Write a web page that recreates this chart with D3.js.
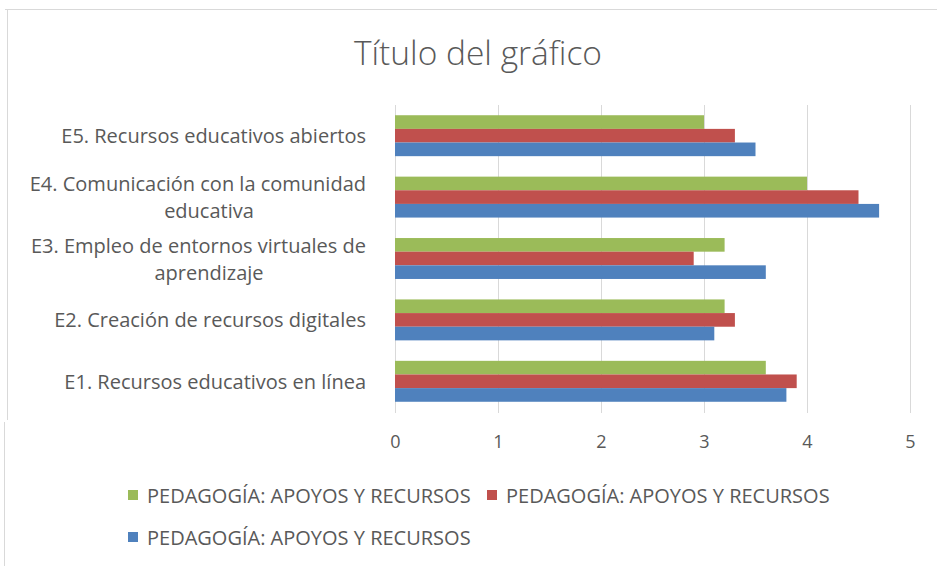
<!DOCTYPE html>
<html>
<head>
<meta charset="utf-8">
<script src="https://cdn.jsdelivr.net/npm/d3@7"></script>
<style>
  body{margin:0;background:#fff;}
  text{font-family:"Open Sans", sans-serif;fill:#595959;}
</style>
</head>
<body>
<svg id="main"></svg>
<script>
//--------data----------
// categories from top to bottom, each label split in display lines
let categories = ['E5', 'E4', 'E3', 'E2', 'E1'];
let categoryLines = [
  ['E5. Recursos educativos abiertos'],
  ['E4. Comunicación con la comunidad', 'educativa'],
  ['E3. Empleo de entornos virtuales de', 'aprendizaje'],
  ['E2. Creación de recursos digitales'],
  ['E1. Recursos educativos en línea']
];
let seriesNames = [
  'PEDAGOGÍA: APOYOS Y RECURSOS',
  'PEDAGOGÍA: APOYOS Y RECURSOS',
  'PEDAGOGÍA: APOYOS Y RECURSOS'
];
let seriesColors = ['#9BBB59', '#C0504D', '#4F81BD'];
// values per category (same order as categories), one array per series
let greenValues = [3.0, 4.0, 3.2, 3.2, 3.6];
let redValues   = [3.3, 4.5, 2.9, 3.3, 3.9];
let blueValues  = [3.5, 4.7, 3.6, 3.1, 3.8];
let xTicks = [0, 1, 2, 3, 4, 5];
let title = 'Título del gráfico';

//--------code----------
let width = 937, height = 566;
let svg = d3.select('#main')
  .attr('width', width)
  .attr('height', height);

// chart area frame (only top and left edges show in the capture)
svg.append('line')
  .attr('x1', 5).attr('x2', width).attr('y1', 9.5).attr('y2', 9.5)
  .attr('stroke', '#d9d9d9');
svg.append('line')
  .attr('x1', 7.5).attr('x2', 7.5).attr('y1', 9.5).attr('y2', 420)
  .attr('stroke', '#d9d9d9');
svg.append('line')
  .attr('x1', 4.5).attr('x2', 4.5).attr('y1', 422).attr('y2', height)
  .attr('stroke', '#d9d9d9');

svg.append('text')
  .attr('x', 478).attr('y', 52)
  .attr('text-anchor', 'middle')
  .attr('dominant-baseline', 'central')
  .style('font-size', '33.5px')
  .style('font-weight', 300)
  .text(title);

let sx = d3.scaleLinear().domain([0, 5]).range([395, 910]);
let sy = d3.scaleBand()
  .domain(categories)
  .range([105, 412])
  .paddingInner(1.5 / 4.5)
  .paddingOuter(0.75 / 4.5);
let sSeries = d3.scaleBand()
  .domain(d3.range(seriesNames.length))
  .range([0, sy.bandwidth()]);

// gridlines
svg.selectAll('.grid')
  .data(xTicks)
  .join('line')
  .attr('class', 'grid')
  .attr('x1', d => Math.round(sx(d)) + 0.5)
  .attr('x2', d => Math.round(sx(d)) + 0.5)
  .attr('y1', 105)
  .attr('y2', 413)
  .attr('stroke', '#d9d9d9');

// x axis labels
let ax = d3.axisBottom(sx).tickValues(xTicks).tickFormat(d3.format('d'))
  .tickSize(0).tickPadding(0);
let gx = svg.append('g')
  .attr('transform', 'translate(0,441)')
  .call(ax);
gx.select('.domain').remove();
gx.selectAll('text')
  .attr('y', 0)
  .attr('dy', null)
  .attr('dominant-baseline', 'central')
  .style('font-family', '"Open Sans", sans-serif')
  .style('font-size', '18px')
  .attr('fill', '#595959');

// bars
let allValues = [greenValues, redValues, blueValues];
let rows = [];
categories.forEach((c, i) => {
  allValues.forEach((vals, s) => rows.push({cat: c, s: s, v: vals[i]}));
});
svg.selectAll('.bar')
  .data(rows)
  .join('rect')
  .attr('class', 'bar')
  .attr('x', sx(0))
  .attr('y', d => sy(d.cat) + sSeries(d.s))
  .attr('width', d => sx(d.v) - sx(0))
  .attr('height', sSeries.bandwidth())
  .attr('fill', d => seriesColors[d.s]);

// category labels
let catG = svg.selectAll('.cat')
  .data(categories)
  .join('g')
  .attr('class', 'cat');
catG.each(function(c, i){
  let lines = categoryLines[i];
  let cy = sy(c) + sy.bandwidth() / 2;
  let lh = 27;
  lines.forEach((ln, j) => {
    let y = cy + (j - (lines.length - 1) / 2) * lh;
    d3.select(this).append('text')
      .attr('x', j === 0 ? 366 : 209)
      .attr('y', y)
      .attr('text-anchor', j === 0 ? 'end' : 'middle')
      .attr('dominant-baseline', 'central')
      .style('font-size', '20px')
      .text(ln);
  });
});

// legend
let legendItems = [
  {s: 0, x: 128, y: 495},
  {s: 1, x: 487, y: 495},
  {s: 2, x: 128, y: 537}
];
let lg = svg.selectAll('.legend')
  .data(legendItems)
  .join('g')
  .attr('class', 'legend')
  .attr('transform', d => `translate(${d.x},${d.y})`);
lg.append('rect')
  .attr('x', 0).attr('y', -5)
  .attr('width', 10).attr('height', 10)
  .attr('fill', d => seriesColors[d.s]);
lg.append('text')
  .attr('x', 19).attr('y', 0)
  .attr('dominant-baseline', 'central')
  .style('font-size', '20px')
  .text(d => seriesNames[d.s]);
</script>
</body>
</html>
